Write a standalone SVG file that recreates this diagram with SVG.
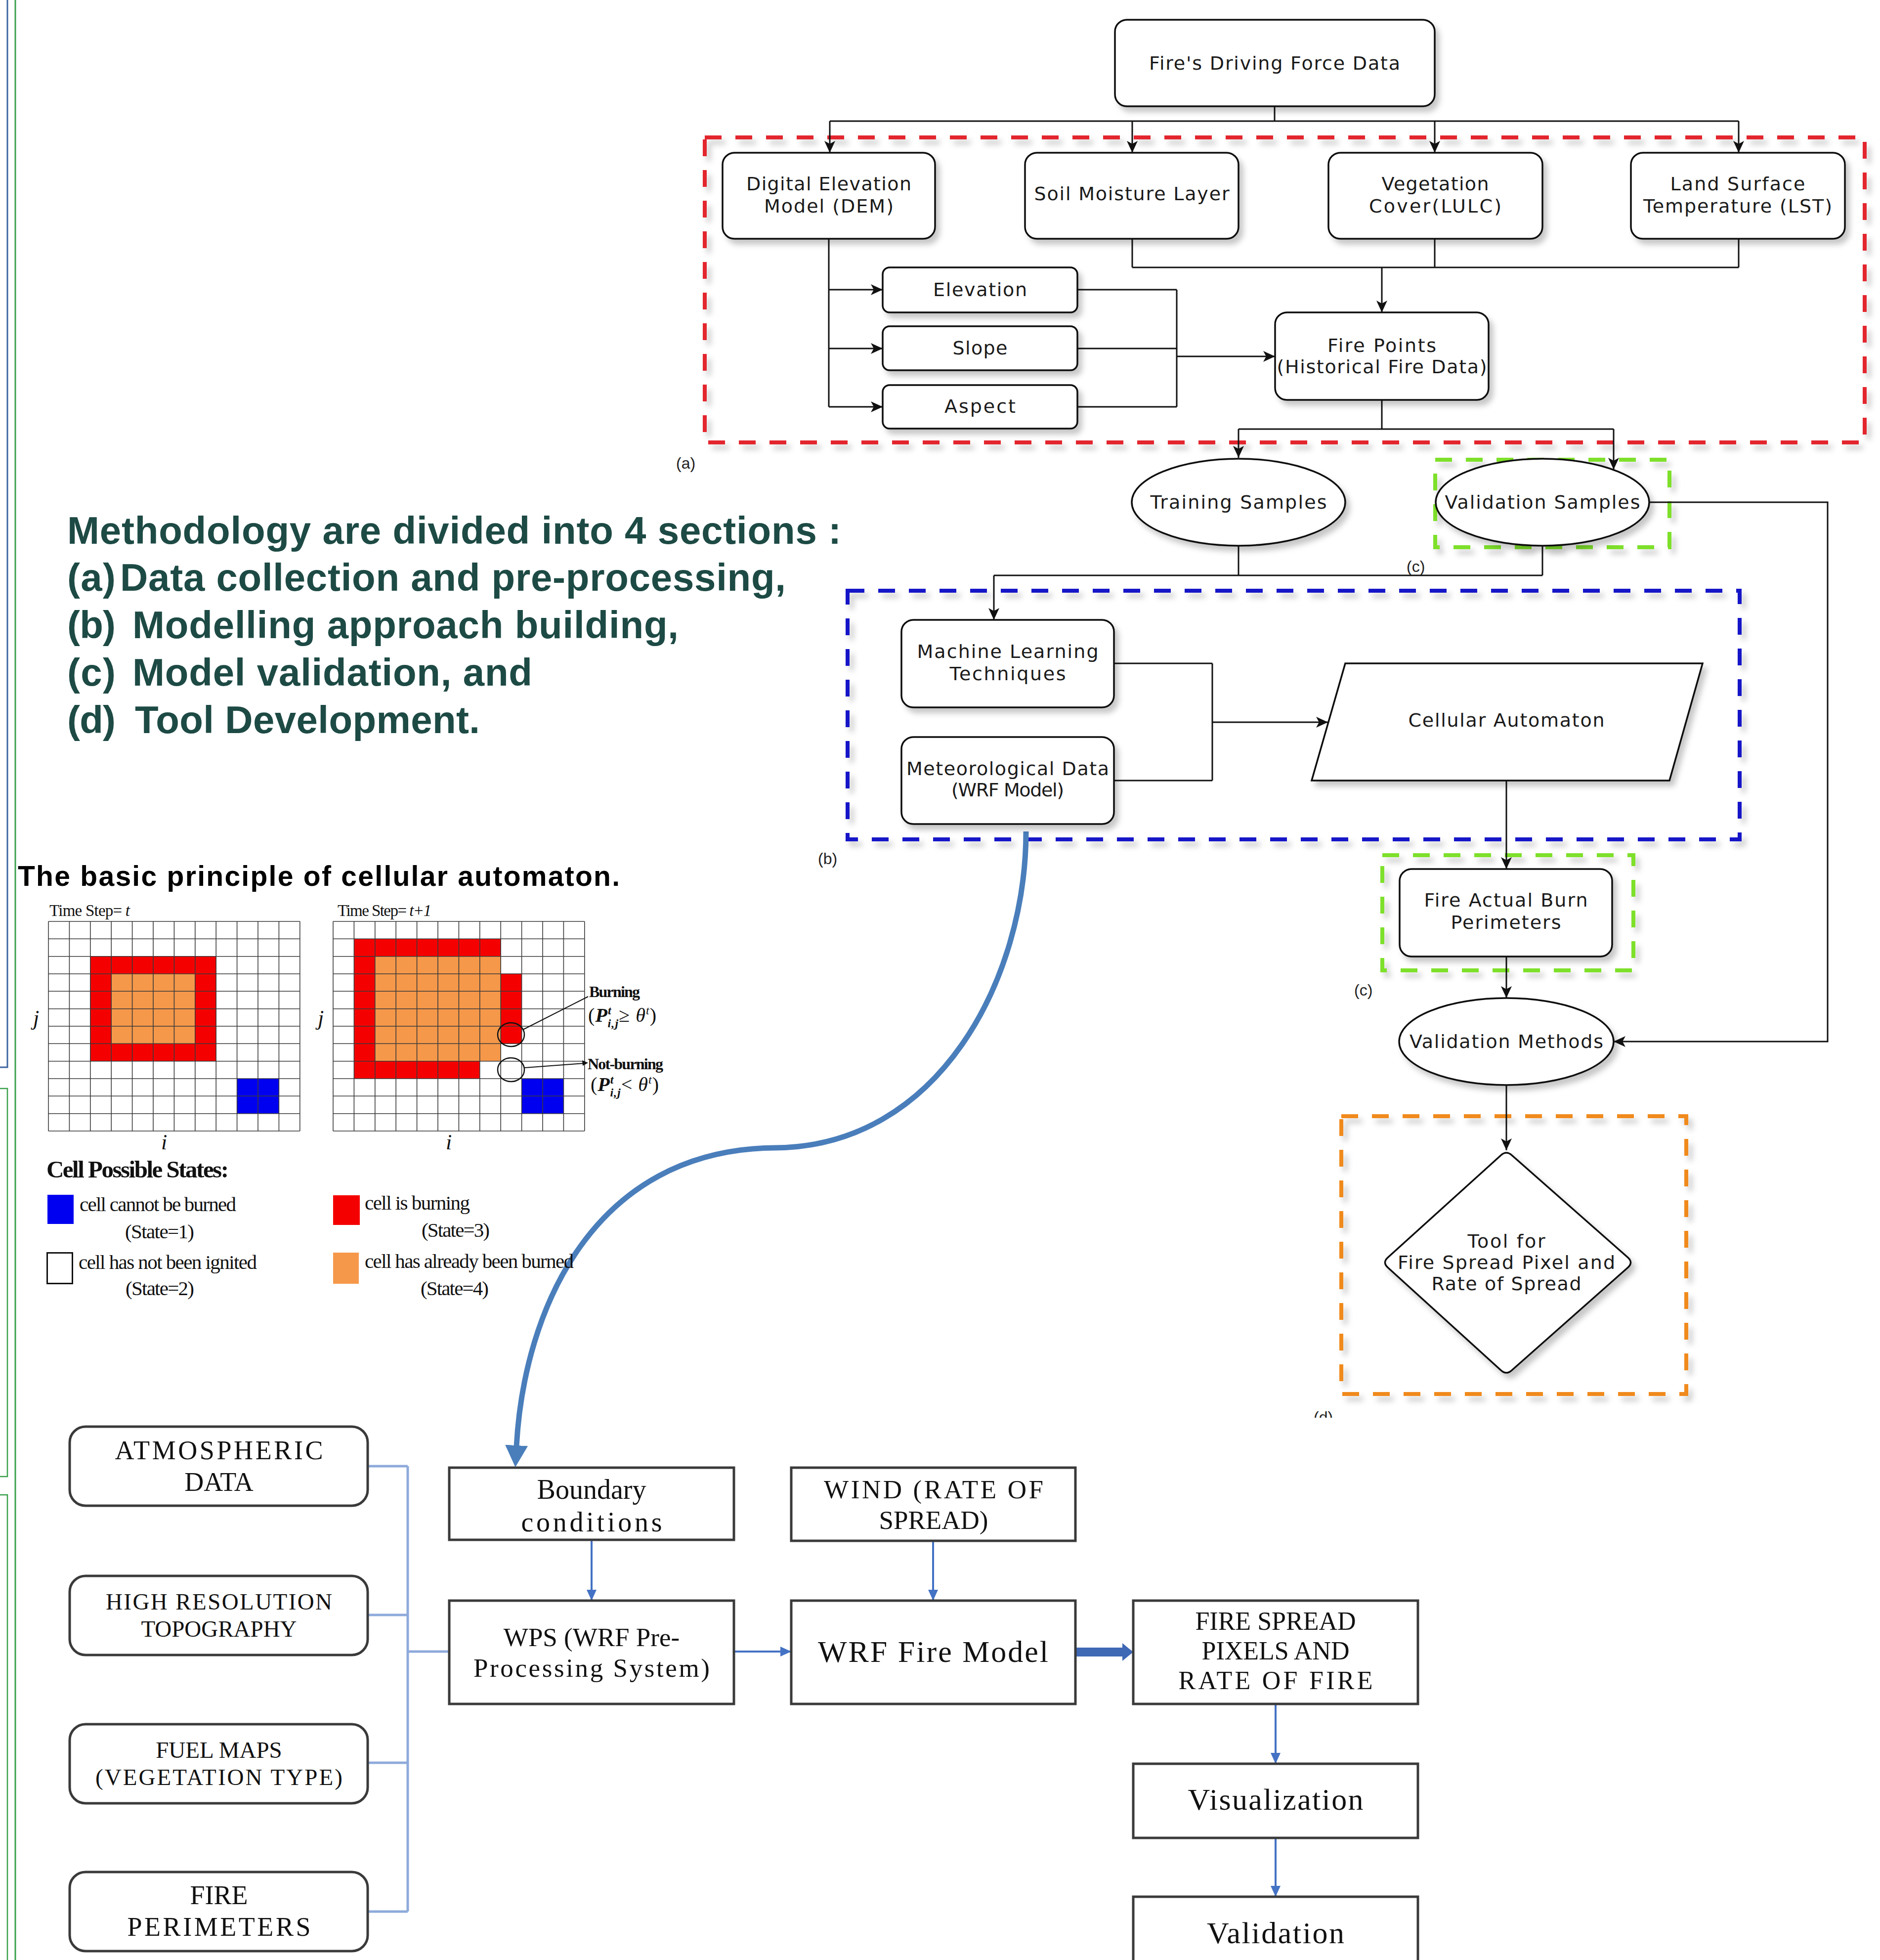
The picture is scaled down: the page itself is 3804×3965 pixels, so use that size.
<svg xmlns="http://www.w3.org/2000/svg" xmlns:xlink="http://www.w3.org/1999/xlink" width="3804" height="3965" viewBox="0 0 3804 3965">
<style>
.n{fill:#fff;stroke:#111;stroke-width:3.5}
.t{font-family:'DejaVu Sans','Liberation Sans',Arial,sans-serif;font-size:38px;fill:#1a1a1a;text-anchor:middle}
.lb{font-family:'Liberation Sans',Arial,sans-serif;font-size:32px;fill:#222}
.c{fill:none;stroke:#111;stroke-width:3}
.dash{fill:none;stroke-width:8;stroke-dasharray:34 28}
.w{fill:#fff;stroke:#3a3a3a;stroke-width:5}
.s{font-family:'Liberation Serif','Times New Roman',serif;fill:#111;text-anchor:middle}
.bl{fill:none;stroke:#4472c4;stroke-width:4}
.br{fill:none;stroke:#8eaadb;stroke-width:5}
.h{font-family:'Liberation Sans',Arial,sans-serif;font-weight:bold;font-size:78px;fill:#1d4a44}
.ser{font-family:'Liberation Serif','Times New Roman',serif;fill:#111}
</style>
<defs>
<filter id="sh" x="-10%" y="-10%" width="130%" height="140%">
<feDropShadow dx="8" dy="10" stdDeviation="6" flood-color="#000" flood-opacity="0.22"/>
</filter>
<marker id="ak" markerWidth="26" markerHeight="24" refX="24" refY="12" orient="auto" markerUnits="userSpaceOnUse"><path d="M0,1 L24,12 L0,23 L6,12 z" fill="#111"/></marker>
<marker id="ab" markerWidth="24" markerHeight="24" refX="22" refY="12" orient="auto" markerUnits="userSpaceOnUse"><path d="M0,2 L22,12 L0,22 z" fill="#4472c4"/></marker>
<marker id="abig" markerWidth="46" markerHeight="48" refX="2" refY="24" orient="auto" markerUnits="userSpaceOnUse"><path d="M0,1 L44,24 L0,47 z" fill="#4a7ebb"/></marker>
<path id="grid" d="M98 1864V2288M140.4 1864V2288M182.8 1864V2288M225.2 1864V2288M267.6 1864V2288M310 1864V2288M352.4 1864V2288M394.8 1864V2288M437.2 1864V2288M479.6 1864V2288M522 1864V2288M564.4 1864V2288M606.8 1864V2288M98 1864H606.8M98 1899.3H606.8M98 1934.7H606.8M98 1970H606.8M98 2005.3H606.8M98 2040.7H606.8M98 2076H606.8M98 2111.3H606.8M98 2146.7H606.8M98 2182H606.8M98 2217.3H606.8M98 2252.7H606.8M98 2288H606.8" fill="none" stroke="#3a3a3a" stroke-width="1.6"/>
<clipPath id="clipd"><rect x="2600" y="2820" width="200" height="48"/></clipPath>
</defs>
<rect width="3804" height="3965" fill="#fff"/>

<g id="frame-lines" fill="none">
<path d="M15 0V2159H0" stroke="#3c64a0" stroke-width="3"/>
<path d="M31 0V3965" stroke="#3aa04a" stroke-width="3"/>
<path d="M0 2202H15V2987H0M0 3024H15V3965" stroke="#3aa04a" stroke-width="2.5"/>
</g>

<g id="sections" filter="url(#sh)">
<rect class="dash" x="1426" y="278" width="2347" height="617" stroke="#e3262d"/>
<rect class="dash" x="2904" y="930" width="474" height="177" stroke="#7ee02a"/>
<rect class="dash" x="1715" y="1195" width="1805" height="503" stroke="#1414c8"/>
<rect class="dash" x="2797" y="1730" width="508" height="233" stroke="#7ee02a"/>
<rect class="dash" x="2714" y="2258" width="698" height="562" stroke="#f08a1c"/>
</g>
<g id="section-labels">
<text class="lb" x="1368" y="948">(a)</text>
<text class="lb" x="2846" y="1157">(c)</text>
<text class="lb" x="1655" y="1748">(b)</text>
<text class="lb" x="2740" y="2014">(c)</text>
<text class="lb" x="2658" y="2878" clip-path="url(#clipd)">(d)</text>
</g>

<g id="connectors">
<path class="c" d="M2579 215V245M1679 245H3518"/>
<path class="c" d="M1679 245V309" marker-end="url(#ak)"/>
<path class="c" d="M2291 245V309" marker-end="url(#ak)"/>
<path class="c" d="M2903 245V309" marker-end="url(#ak)"/>
<path class="c" d="M3518 245V309" marker-end="url(#ak)"/>
<path class="c" d="M2291 483V541M2903 483V541M3518 483V541M2291 541H3518"/>
<path class="c" d="M2796 541V632" marker-end="url(#ak)"/>
<path class="c" d="M1677 483V823"/>
<path class="c" d="M1677 586H1786" marker-end="url(#ak)"/>
<path class="c" d="M1677 705H1786" marker-end="url(#ak)"/>
<path class="c" d="M1677 823H1786" marker-end="url(#ak)"/>
<path class="c" d="M2180 586H2381M2180 705H2381M2180 823H2381M2381 586V823"/>
<path class="c" d="M2381 721H2580" marker-end="url(#ak)"/>
<path class="c" d="M2796 809V868M2506 868H3265"/>
<path class="c" d="M2506 868V926" marker-end="url(#ak)"/>
<path class="c" d="M3265 868V950" marker-end="url(#ak)"/>
<path class="c" d="M3336 1016H3698V2107H3265" marker-end="url(#ak)"/>
<path class="c" d="M2506 1104V1164M3121 1104V1164M2011 1164H3121"/>
<path class="c" d="M2011 1164V1254" marker-end="url(#ak)"/>
<path class="c" d="M2253 1342H2453M2253 1579H2453M2453 1342V1579"/>
<path class="c" d="M2453 1461H2687" marker-end="url(#ak)"/>
<path class="c" d="M3048 1579V1758" marker-end="url(#ak)"/>
<path class="c" d="M3048 1935V2019" marker-end="url(#ak)"/>
<path class="c" d="M3048 2195V2327" marker-end="url(#ak)"/>
<path d="M2076 1682C2076 1980 1900 2320 1568 2322C1200 2325 1060 2650 1045 2926" fill="none" stroke="#4a7ebb" stroke-width="11" marker-end="url(#abig)"/>
<path class="br" d="M744 2966H825M744 3267H825M744 3566H825M744 3867H825M825 2966V3867M825 3341H909"/>
<path class="bl" d="M1197 3115V3238" marker-end="url(#ab)"/>
<path class="bl" d="M1485 3341H1601" marker-end="url(#ab)"/>
<path class="bl" d="M1888 3117V3238" marker-end="url(#ab)"/>
<path d="M2178 3333H2271V3324L2293 3342L2271 3360V3351H2178Z" fill="#3f68b5"/>
<path class="bl" d="M2581 3447V3568" marker-end="url(#ab)"/>
<path class="bl" d="M2581 3718V3837" marker-end="url(#ab)"/>
</g>

<g id="n-driving"><rect class="n" filter="url(#sh)" x="2256" y="40" width="647" height="175" rx="24"/><text class="t" x="2579" y="141" textLength="508">Fire's Driving Force Data</text></g>
<g id="n-dem"><rect class="n" filter="url(#sh)" x="1462" y="309" width="430" height="174" rx="24"/><text class="t" x="1677" y="385" textLength="334">Digital Elevation</text><text class="t" x="1677" y="430" textLength="262">Model (DEM)</text></g>
<g id="n-soil"><rect class="n" filter="url(#sh)" x="2074" y="309" width="432" height="174" rx="24"/><text class="t" x="2290" y="405" textLength="395">Soil Moisture Layer</text></g>
<g id="n-veg"><rect class="n" filter="url(#sh)" x="2688" y="309" width="433" height="174" rx="24"/><text class="t" x="2904" y="385" textLength="217">Vegetation</text><text class="t" x="2904" y="430" textLength="268">Cover(LULC)</text></g>
<g id="n-lst"><rect class="n" filter="url(#sh)" x="3300" y="309" width="433" height="174" rx="24"/><text class="t" x="3516" y="385" textLength="273">Land Surface</text><text class="t" x="3516" y="430" textLength="382">Temperature (LST)</text></g>
<g id="n-elev"><rect class="n" filter="url(#sh)" x="1786" y="541" width="394" height="91" rx="14"/><text class="t" x="1983" y="599" textLength="190">Elevation</text></g>
<g id="n-slope"><rect class="n" filter="url(#sh)" x="1786" y="660" width="394" height="89" rx="14"/><text class="t" x="1983" y="717" textLength="111">Slope</text></g>
<g id="n-aspect"><rect class="n" filter="url(#sh)" x="1786" y="779" width="394" height="88" rx="14"/><text class="t" x="1983" y="835" textLength="144">Aspect</text></g>
<g id="n-firepoints"><rect class="n" filter="url(#sh)" x="2580" y="632" width="432" height="177" rx="24"/><text class="t" x="2796" y="712" textLength="220">Fire Points</text><text class="t" x="2796" y="755" textLength="425">(Historical Fire Data)</text></g>
<g id="n-training"><ellipse class="n" filter="url(#sh)" cx="2506" cy="1016" rx="216" ry="88"/><text class="t" x="2506" y="1029" textLength="357">Training Samples</text></g>
<g id="n-validation"><ellipse class="n" filter="url(#sh)" cx="3121" cy="1016" rx="216" ry="88"/><text class="t" x="3121" y="1029" textLength="395">Validation Samples</text></g>
<g id="n-ml"><rect class="n" filter="url(#sh)" x="1824" y="1254" width="430" height="177" rx="24"/><text class="t" x="2039" y="1331" textLength="367">Machine Learning</text><text class="t" x="2039" y="1376" textLength="235">Techniques</text></g>
<g id="n-met"><rect class="n" filter="url(#sh)" x="1824" y="1491" width="430" height="176" rx="24"/><text class="t" x="2039" y="1568" textLength="410">Meteorological Data</text><text class="t" x="2039" y="1611" textLength="228">(WRF Model)</text></g>
<g id="n-ca"><path class="n" filter="url(#sh)" d="M2722 1342H3445L3378 1579H2654Z"/><text class="t" x="3048" y="1470" textLength="397">Cellular Automaton</text></g>
<g id="n-fabp"><rect class="n" filter="url(#sh)" x="2832" y="1758" width="430" height="177" rx="24"/><text class="t" x="3047" y="1834" textLength="331">Fire Actual Burn</text><text class="t" x="3047" y="1879" textLength="223">Perimeters</text></g>
<g id="n-valmethods"><ellipse class="n" filter="url(#sh)" cx="3048" cy="2107" rx="217" ry="88"/><text class="t" x="3048" y="2120" textLength="392">Validation Methods</text></g>
<g id="n-tool"><path class="n" filter="url(#sh)" d="M3037 2337Q3048 2327 3059 2337L3294 2544Q3305 2554 3294 2564L3059 2772Q3048 2782 3037 2772L2808 2564Q2797 2554 2808 2544Z"/><text class="t" x="3048" y="2524" textLength="157">Tool for</text><text class="t" x="3048" y="2567" textLength="440">Fire Spread Pixel and</text><text class="t" x="3048" y="2610" textLength="303">Rate of Spread</text></g>

<g id="heading">
<text class="h" x="136" y="1100" textLength="1566">Methodology are divided into 4 sections :</text>
<text class="h" x="136" y="1195" textLength="98">(a)</text><text class="h" x="243" y="1195" textLength="1347">Data collection and pre-processing,</text>
<text class="h" x="136" y="1291" textLength="98">(b)</text><text class="h" x="268" y="1291" textLength="1105">Modelling approach building,</text>
<text class="h" x="136" y="1387" textLength="98">(c)</text><text class="h" x="268" y="1387" textLength="809">Model validation, and</text>
<text class="h" x="136" y="1483" textLength="98">(d)</text><text class="h" x="273" y="1483" textLength="698">Tool Development.</text>
</g>

<g id="ca-figure">
<text x="36" y="1792" font-family="'Liberation Sans',Arial,sans-serif" font-weight="bold" font-size="57" fill="#000" textLength="1218">The basic principle of cellular automaton.</text>
<text class="ser" x="100" y="1853" font-size="33" textLength="163">Time Step= <tspan font-style="italic">t</tspan></text>
<text class="ser" x="683" y="1853" font-size="33" textLength="190">Time Step= <tspan font-style="italic">t+1</tspan></text>
<rect x="98" y="1864" width="508.8" height="424" fill="#fff"/>
<rect x="182.8" y="1934.7" width="254.4" height="212" fill="#f50000"/>
<rect x="225.2" y="1970" width="169.6" height="141.3" fill="#f5984a"/>
<rect x="479.6" y="2182" width="84.8" height="70.7" fill="#0000f0"/>
<rect x="674" y="1864" width="508.8" height="424" fill="#fff"/>
<rect x="716.4" y="1899.3" width="296.8" height="282.7" fill="#f50000"/>
<rect x="758.8" y="1934.7" width="254.4" height="212" fill="#f5984a"/>
<rect x="1013.2" y="1970" width="42.4" height="141.3" fill="#f50000"/>
<rect x="970.8" y="2146.7" width="42.4" height="35.3" fill="#fff"/>
<rect x="1055.6" y="2182" width="84.8" height="70.7" fill="#0000f0"/>
<use xlink:href="#grid"/>
<use xlink:href="#grid" x="576"/>
<ellipse cx="1034" cy="2093" rx="27" ry="24" fill="none" stroke="#111" stroke-width="2.5"/>
<ellipse cx="1034" cy="2164" rx="27" ry="24" fill="none" stroke="#111" stroke-width="2.5"/>
<path d="M1058 2083L1190 2016M1061 2160L1182 2151" fill="none" stroke="#111" stroke-width="2"/>
<path d="M1190 2150L1178 2145L1179 2156Z" fill="#111"/>
<text class="ser" x="1192" y="2017" font-size="32" font-weight="bold" textLength="103">Burning</text>
<text class="ser" x="1190" y="2067" font-size="40" textLength="138">(<tspan font-style="italic" font-weight="bold">P</tspan><tspan font-size="24" dy="-15" font-style="italic" font-weight="bold">t</tspan><tspan font-size="24" dx="-8" dy="26" font-style="italic" font-weight="bold">i,j</tspan><tspan dy="-11">≥ </tspan><tspan font-style="italic">θ</tspan><tspan font-size="24" dy="-15" font-style="italic">t</tspan><tspan dy="15">)</tspan></text>
<text class="ser" x="1189" y="2163" font-size="32" font-weight="bold" textLength="153">Not-burning</text>
<text class="ser" x="1195" y="2207" font-size="40" textLength="138">(<tspan font-style="italic" font-weight="bold">P</tspan><tspan font-size="24" dy="-15" font-style="italic" font-weight="bold">t</tspan><tspan font-size="24" dx="-8" dy="26" font-style="italic" font-weight="bold">i,j</tspan><tspan dy="-11">&lt; </tspan><tspan font-style="italic">θ</tspan><tspan font-size="24" dy="-15" font-style="italic">t</tspan><tspan dy="15">)</tspan></text>
<text class="ser" x="67" y="2074" font-size="44" font-style="italic">j</text>
<text class="ser" x="643" y="2074" font-size="44" font-style="italic">j</text>
<text class="ser" x="326" y="2325" font-size="44" font-style="italic">i</text>
<text class="ser" x="902" y="2325" font-size="44" font-style="italic">i</text>
<text class="ser" x="94" y="2382" font-size="49" font-weight="bold" textLength="369">Cell Possible States:</text>
<rect x="96" y="2417" width="53" height="59" fill="#0000f0"/>
<text class="ser" x="161" y="2450" font-size="41" textLength="317">cell cannot be burned</text>
<text class="ser" x="253" y="2505" font-size="41" textLength="140">(State=1)</text>
<rect x="95.5" y="2534.5" width="51" height="62" fill="#fff" stroke="#111" stroke-width="3"/>
<text class="ser" x="159" y="2567" font-size="41" textLength="361">cell has not been ignited</text>
<text class="ser" x="254" y="2620" font-size="41" textLength="139">(State=2)</text>
<rect x="674" y="2418" width="54" height="60" fill="#f50000"/>
<text class="ser" x="738" y="2447" font-size="41" textLength="213">cell is burning</text>
<text class="ser" x="853" y="2502" font-size="41" textLength="138">(State=3)</text>
<rect x="674" y="2534" width="52" height="63" fill="#f5984a"/>
<text class="ser" x="738" y="2565" font-size="41" textLength="423">cell has already been burned</text>
<text class="ser" x="851" y="2620" font-size="41" textLength="138">(State=4)</text>
</g>

<g id="n-atm"><rect class="w" x="141" y="2886" width="603" height="160" rx="32"/><text class="s" x="443" y="2952" font-size="54" textLength="421">ATMOSPHERIC</text><text class="s" x="443" y="3016" font-size="54">DATA</text></g>
<g id="n-topo"><rect class="w" x="141" y="3188" width="603" height="160" rx="32"/><text class="s" x="443" y="3256" font-size="47" textLength="458">HIGH RESOLUTION</text><text class="s" x="443" y="3311" font-size="47">TOPOGRAPHY</text></g>
<g id="n-fuel"><rect class="w" x="141" y="3488" width="603" height="160" rx="32"/><text class="s" x="443" y="3556" font-size="47">FUEL MAPS</text><text class="s" x="443" y="3611" font-size="47" textLength="500">(VEGETATION TYPE)</text></g>
<g id="n-fireper"><rect class="w" x="141" y="3787" width="603" height="160" rx="32"/><text class="s" x="443" y="3852" font-size="54">FIRE</text><text class="s" x="443" y="3916" font-size="54" textLength="371">PERIMETERS</text></g>
<g id="n-boundary"><rect class="w" x="909" y="2969" width="576" height="146"/><text class="s" x="1197" y="3032" font-size="56">Boundary</text><text class="s" x="1197" y="3098" font-size="56" textLength="285">conditions</text></g>
<g id="n-wps"><rect class="w" x="909" y="3238" width="576" height="209"/><text class="s" x="1197" y="3330" font-size="53">WPS (WRF Pre-</text><text class="s" x="1197" y="3392" font-size="53" textLength="478">Processing System)</text></g>
<g id="n-wind"><rect class="w" x="1601" y="2969" width="575" height="148"/><text class="s" x="1889" y="3031" font-size="53" textLength="444">WIND (RATE OF</text><text class="s" x="1889" y="3093" font-size="53">SPREAD)</text></g>
<g id="n-wrf"><rect class="w" x="1601" y="3238" width="575" height="209"/><text class="s" x="1888" y="3362" font-size="62" textLength="466">WRF Fire Model</text></g>
<g id="n-firespread"><rect class="w" x="2293" y="3238" width="576" height="209"/><text class="s" x="2581" y="3297" font-size="52">FIRE SPREAD</text><text class="s" x="2581" y="3357" font-size="52">PIXELS AND</text><text class="s" x="2581" y="3417" font-size="52" textLength="393">RATE OF FIRE</text></g>
<g id="n-vis"><rect class="w" x="2293" y="3568" width="576" height="150"/><text class="s" x="2581" y="3661" font-size="62" textLength="355">Visualization</text></g>
<g id="n-valid"><rect class="w" x="2293" y="3837" width="576" height="160"/><text class="s" x="2581" y="3931" font-size="62" textLength="278">Validation</text></g>
</svg>
